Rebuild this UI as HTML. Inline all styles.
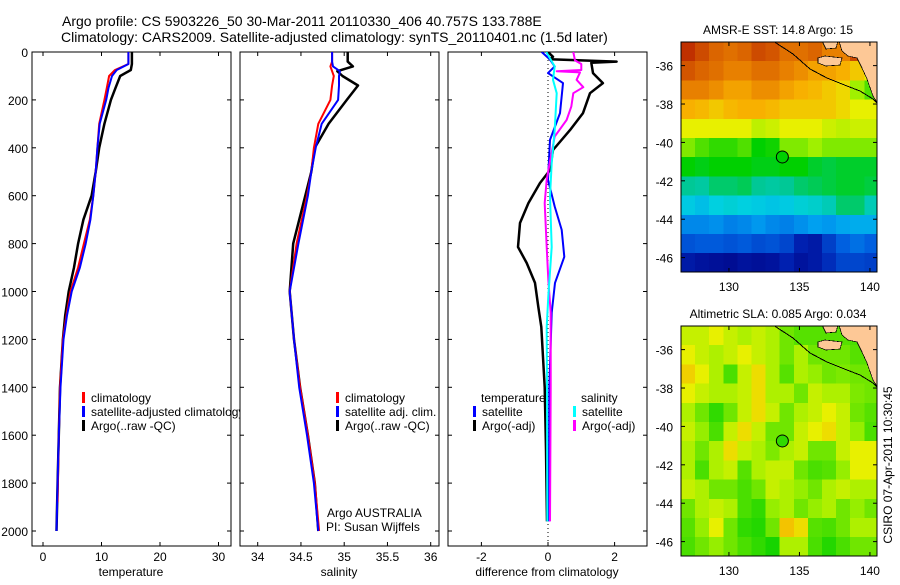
<!DOCTYPE html>
<html><head><meta charset="utf-8"><style>
body{margin:0;background:#fff;}
svg text{font-family:"Liberation Sans",sans-serif;fill:#000;}
</style></head><body>
<svg id="fig" width="900" height="580" viewBox="0 0 900 580" xmlns="http://www.w3.org/2000/svg">
<text x="62" y="26" font-size="14">Argo profile: CS 5903226_50 30-Mar-2011 20110330_406 40.757S 133.788E</text>
<text x="61" y="42" font-size="14">Climatology: CARS2009. Satellite-adjusted climatology: synTS_20110401.nc (1.5d later)</text>
<defs>
<clipPath id="c1"><rect x="32" y="52" width="199" height="494"/></clipPath>
<clipPath id="c1t"><rect x="32" y="52" width="208" height="494"/></clipPath>
<clipPath id="c2"><rect x="240" y="52" width="199" height="494"/></clipPath>
<clipPath id="c3"><rect x="448" y="52" width="199" height="494"/></clipPath>
<clipPath id="m1"><rect x="681" y="42" width="196" height="230"/></clipPath>
<clipPath id="m2"><rect x="681" y="326" width="196" height="230"/></clipPath>
</defs>
<g id="layer"></g>
</svg>
<script>
// ---- profile data ----
const depthT = [0,50,75,100,150,200,300,400,500,600,700,800,900,1000,1100,1200,1400,1600,1800,2000];
const argoT  = [15.2,15.2,15.0,13.2,12.4,11.6,10.5,9.6,9.0,8.3,6.9,6.0,5.3,4.4,3.8,3.4,2.9,2.7,2.5,2.3];
const satT   = [14.6,14.6,12.6,11.8,11.2,10.8,9.7,9.3,9.0,8.6,8.1,7.3,6.3,4.9,4.1,3.5,3.0,2.7,2.5,2.3];
const climDepthT = [0,50,75,100,150,200,300,400,500,600,700,800,900,1000,1100,1200,1400,1600,1880];
const climT  = [14.6,14.6,12.3,11.3,10.9,10.5,9.6,9.3,9.0,8.6,8.0,7.0,6.0,4.7,4.0,3.4,2.9,2.7,2.5];

const depthS = [0,40,60,80,100,140,200,300,400,500,600,800,1000,1200,1400,1600,1800,2000];
const argoS  = [35.04,35.04,35.10,34.92,34.98,35.16,35.03,34.82,34.66,34.62,34.55,34.41,34.37,34.42,34.49,34.58,34.66,34.70];
const satS   = [34.86,34.86,34.87,34.95,34.94,34.94,34.93,34.74,34.67,34.62,34.58,34.47,34.37,34.42,34.48,34.57,34.65,34.70];
const climS  = [34.86,34.86,34.84,34.86,34.88,34.86,34.84,34.70,34.65,34.62,34.57,34.45,34.37,34.42,34.49,34.58,34.66,34.71];

const argoTdDepth = [0,20,30,40,45,88,130,172,255,326,409,493,547,631,714,814,881,964,1064,1148,1400,1660,1960];
const argoTd = [0,0.15,0.05,2.06,1.3,1.35,1.65,1.26,1.05,0.66,0.15,0.06,-0.24,-0.59,-0.84,-0.9,-0.64,-0.39,-0.29,-0.2,-0.1,-0.06,-0.03];
const satTdDepth = [0,30,60,88,130,255,367,533,645,743,855,964,1089,1400,1960];
const satTd = [-0.19,0.05,0.2,0,0.45,0.36,0.06,0,0.2,0.41,0.49,0.21,0.11,0.04,0.02];
const satSdDepth = [0,60,116,172,326,464,603,814,1020,1148,1400,1960];
const satSd = [-0.05,0.2,0.15,0.26,0.2,0.11,0.06,0.11,0.01,-0.04,-0.03,-0.02];
const argoSdDepth = [0,35,50,75,80,85,116,147,172,228,284,353,464,533,631,814,950,1089,1400,1960];
const argoSd = [0.76,0.81,1.0,1.0,0.26,0.96,0.86,1.06,0.76,0.7,0.56,0.2,0.05,-0.04,-0.1,-0.04,0.01,0.08,0.08,0.06];

const depthTicks = [0,200,400,600,800,1000,1200,1400,1600,1800,2000];
const tempTicks = [0,10,20,30];
const salTicks = [34,34.5,35,35.5,36];
const salTickLabels = ["34","34.5","35","35.5","36"];
const diffTicks = [-2,0,2];
const lonTicks = [130,135,140];
const latTicks = [-36,-38,-40,-42,-44,-46];

// ---- map data (1x1 degree cells, rows from north, lon 126.6..140.6) ----
const sstGrid = [
[19.5,19,18.5,18.3,18.5,19,18.8,18.3,18.3,18.5,18,18,19,18.5],
[18.8,18.5,18.3,18,18,18.3,18.3,18,17.8,17.5,17.5,17.3,17,16.5],
[18,18,17.8,17.5,17.5,17.8,17.8,17.5,17.3,17.2,17,16.8,16,15.5],
[17.3,17.2,17,17.2,17.3,17.3,17.2,17,17,17,17,16.8,16.5,16.5],
[16.5,16.5,16.5,16.5,16.5,16.2,16.3,16.5,16.5,16.5,16.3,16.2,16.3,16.3],
[15.8,15.5,15.3,15.3,15.5,15.0,15.1,15.8,15.8,16,15.8,15.8,15.8,15.8],
[15,14.9,15,15,15,14.9,14.9,15,15,14.8,14.7,14.8,14.8,14.8],
[14.3,14.2,14.5,14.5,14.6,14.3,14.2,14.3,14.5,14.6,14.7,14.8,14.8,14.7],
[13.5,13.3,13.6,13.7,13.6,13.5,13.4,13.5,13.7,13.8,14.0,14.5,14.5,14],
[12.5,12.5,12.6,12.4,12.5,12.7,12.5,12.4,12.6,12.8,12.7,12.9,13,13],
[11.8,11.9,11.9,11.8,11.9,11.7,11.8,11.6,11,10.8,11.5,12,12.2,12],
[10.8,10.6,10.5,10.4,10.6,10.5,10.6,11,10.6,10.8,11.2,11.6,11.6,11.5]];
const slaGrid = [
[0.12,0.12,0.15,0.12,0.1,0.12,0.1,0.05,0.03,0.03,0.03,0.03,0.02,0.02],
[0.15,0.12,0.1,0.12,0.15,0.12,0.1,0.05,0.1,0.05,0.05,0.05,0.03,0.03],
[0.2,0.15,0.1,0.02,0.12,0.18,0.1,0.03,0.1,0.08,0.05,0.06,0.05,0.05],
[0.15,0.12,0.1,0.1,0.12,0.18,0.1,0.1,0.05,0.12,0.1,0.1,0.06,0.05],
[0.1,0.05,0.0,0.05,0.12,0.18,0.12,0.05,0.1,0.12,0.15,0.12,0.05,0.03],
[0.12,0.08,0.02,0.12,0.18,0.12,0.05,0.05,0.12,0.15,0.18,0.12,0.08,0.02],
[0.1,0.05,0.1,0.18,0.12,0.1,0.06,0.1,0.12,0.05,0.05,0.12,0.15,0.15],
[0.1,0.02,0.1,0.12,0.03,0.1,0.12,0.12,0.05,0.02,0.03,0.08,0.15,0.15],
[0.12,0.1,0.05,0.05,0.02,0.05,0.12,0.1,0.08,0.05,0.1,0.12,0.1,0.1],
[0.05,0.1,0.12,0.1,0.02,0.0,0.08,0.1,0.05,0.08,0.1,0.05,0.08,0.05],
[0.03,0.08,0.15,0.05,0.0,-0.01,0.05,0.22,0.18,0.03,0.02,0.05,0.1,0.1],
[0.02,0.05,0.08,0.05,0.02,0.0,-0.02,0.1,0.1,0.02,-0.01,0.02,0.05,0.05]];
const argoLon = 133.788, argoLat = -40.757;

const NS="http://www.w3.org/2000/svg";
const L=document.getElementById('layer');
function mk(tag,attrs,parent){const e=document.createElementNS(NS,tag);for(const k in attrs)e.setAttribute(k,attrs[k]);(parent||L).appendChild(e);return e;}

// axis functions
const yD = d => 52 + d*0.2395;
const xT = t => 43 + t*5.85;
const xS = s => 257.7 + (s-34)*86.5;
const xDf = v => 548 + v*33.3;

function panel(x0,name,xs,ticks,labels,lab){
  const b=mk('rect',{x:x0,y:52,width:199,height:494,fill:'#fff',stroke:'#000','stroke-width':1});
  
  
  depthTicks.forEach(d=>{
    mk('line',{x1:x0,x2:x0+4,y1:yD(d),y2:yD(d),stroke:'#000'});
    mk('line',{x1:x0+199,x2:x0+195,y1:yD(d),y2:yD(d),stroke:'#000'});
  });
  ticks.forEach((t,i)=>{
    const x=xs(t);
    mk('line',{x1:x,x2:x,y1:52,y2:56,stroke:'#000'});
    mk('line',{x1:x,x2:x,y1:546,y2:542,stroke:'#000'});
    const tx=mk('text',{x:x,y:561,'font-size':12,'text-anchor':'middle'});tx.textContent=labels[i];
    
    
  });
  const xl=mk('text',{x:x0+99,y:576,'font-size':12,'text-anchor':'middle'});xl.textContent=lab;
  
  
}
panel(32,'temperature',xT,tempTicks,tempTicks.map(String),'temperature');
panel(240,'salinity',xS,salTicks,salTickLabels,'salinity');
panel(448,'difference',xDf,diffTicks,diffTicks.map(String),'difference from climatology');
depthTicks.forEach(d=>{
  const t=mk('text',{x:28,y:yD(d)+5,'font-size':12,'text-anchor':'end'});t.textContent=d;
  
  
});

function line(depths,vals,xs,col,clip,name,w){
  const pts=depths.map((d,i)=>xs(vals[i]).toFixed(1)+','+yD(d).toFixed(1)).join(' ');
  const p=mk('polyline',{points:pts,fill:'none',stroke:col,'stroke-width':w||2,'clip-path':'url(#'+clip+')','stroke-linejoin':'round'});
  
  
}
line(depthT,argoT,xT,'#000','c1','argo-temperature-line',2.5);
line(climDepthT,climT,xT,'#f00','c1','climatology-temperature-line');
line(depthT,satT,xT,'#00f','c1','satellite-temperature-line');
line(depthS,argoS,xS,'#000','c2','argo-salinity-line',2.5);
line(depthS,climS,xS,'#f00','c2','climatology-salinity-line');
line(depthS,satS,xS,'#00f','c2','satellite-salinity-line');
const z=mk('line',{x1:xDf(0),x2:xDf(0),y1:52,y2:546,stroke:'#000','stroke-dasharray':'1,3'});


line(argoTdDepth,argoTd,xDf,'#000','c3','argo-temperature-diff-line',2.5);
line(satTdDepth,satTd,xDf,'#00f','c3','satellite-temperature-diff-line');
line(argoSdDepth,argoSd,xDf,'#f0f','c3','argo-salinity-diff-line');
line(satSdDepth,satSd,xDf,'#0ff','c3','satellite-salinity-diff-line');

function legend(x,y,col,txt,name,clip){
  const r=mk('rect',{x:x,y:y-10,width:3,height:11,fill:col});
  
  
  const t=mk('text',{x:x+9,y:y,'font-size':12});t.textContent=txt;
  if(clip)t.setAttribute('clip-path','url(#'+clip+')');
  
  
}
legend(82,402,'#f00','climatology','legend-climatology','c1t');
legend(82,416,'#00f','satellite-adjusted climatology','legend-satellite-adjusted','c1t');
legend(82,430,'#000','Argo(..raw -QC)','legend-argo','c1t');
legend(336,402,'#f00','climatology','legend-sal-climatology');
legend(336,416,'#00f','satellite adj. clim.','legend-sal-satellite');
legend(336,430,'#000','Argo(..raw -QC)','legend-sal-argo');
const a1=mk('text',{x:327,y:517,'font-size':12});a1.textContent='Argo AUSTRALIA';


const a2=mk('text',{x:326,y:531,'font-size':12});a2.textContent='PI: Susan Wijffels';


const lt=mk('text',{x:481,y:402,'font-size':12});lt.textContent='temperature';


const ls=mk('text',{x:581,y:402,'font-size':12});ls.textContent='salinity';


legend(473,416,'#00f','satellite','legend-diff-t-satellite');
legend(473,430,'#000','Argo(-adj)','legend-diff-t-argo');
legend(573,416,'#0ff','satellite','legend-diff-s-satellite');
legend(573,430,'#f0f','Argo(-adj)','legend-diff-s-argo');

// colormap
const cstops=[[10,[0,0,128]],[11,[0,32,176]],[12,[0,96,224]],[12.8,[0,160,240]],[13.6,[0,208,224]],[14.3,[0,200,150]],[15,[0,208,0]],[16,[160,240,0]],[16.5,[232,240,0]],[17.3,[248,176,0]],[18,[232,128,0]],[19.5,[192,48,0]],[20,[160,0,0]]];
function cmap(v){
  if(v<=cstops[0][0])return 'rgb('+cstops[0][1]+')';
  for(let i=1;i<cstops.length;i++){if(v<=cstops[i][0]){const a=cstops[i-1],b=cstops[i],f=(v-a[0])/(b[0]-a[0]);return 'rgb('+a[1].map((c,k)=>Math.round(c+(b[1][k]-c)*f)).join(',')+')';}}
  return 'rgb('+cstops[cstops.length-1][1]+')';
}
function map(top,grid,toC,name,clip,title,argoVal){
  const xL=lon=>681+(lon-126.6)*14.1;
  const yL=lat=>top+(-34.77-lat)*19.2;
  const g=mk('g',{'clip-path':'url(#'+clip+')','shape-rendering':'crispEdges'});
  
  
  grid.forEach((row,r)=>row.forEach((v,c)=>{
    const x=xL(126.6+c),y=yL(-34.77-r);
    const cell=mk('rect',{x:x.toFixed(1),y:y.toFixed(1),width:14.6,height:19.7,fill:cmap(toC(v))},g);
    
    
  }));
  const o=top-42;
  const land=mk('path',{d:`M839 ${41+o} L842 ${51+o} L848 ${56+o} L857 ${58+o} L862 ${68+o} L867 ${79+o} L873 ${96+o} L878 ${104+o} L878 ${41+o} Z M822 ${41+o} L838 ${41+o} L836 ${48+o} L826 ${49+o} Z M818 ${58+o} L825 ${56+o} L842 ${58+o} L840 ${65+o} L826 ${66+o} L818 ${63+o} Z`,fill:'#fdc896',stroke:'#000','stroke-width':0.7},g);
  
  
  const sh=mk('polyline',{points:`773,${41+o} 793,${54+o} 810,${69+o} 827,${78+o} 847,${86+o} 860,${91+o} 873,${99+o} 878,${104+o}`,fill:'none',stroke:'#000','stroke-width':1},g);
  
  
  const ci=mk('circle',{cx:xL(argoLon),cy:yL(argoLat),r:6,fill:cmap(toC(argoVal)),stroke:'#000','stroke-width':1});
  
  
  const b=mk('rect',{x:681,y:top,width:196,height:230,fill:'none',stroke:'#000'});
  
  
  lonTicks.forEach(l=>{const x=xL(l);
    mk('line',{x1:x,x2:x,y1:top,y2:top+4,stroke:'#000'});mk('line',{x1:x,x2:x,y1:top+230,y2:top+226,stroke:'#000'});
    const t=mk('text',{x:x,y:top+249,'font-size':12,'text-anchor':'middle'});t.textContent=l;
    
    });
  latTicks.forEach(l=>{const y=yL(l);
    mk('line',{x1:681,x2:685,y1:y,y2:y,stroke:'#000'});mk('line',{x1:877,x2:873,y1:y,y2:y,stroke:'#000'});
    const t=mk('text',{x:673,y:y+5,'font-size':12,'text-anchor':'end'});t.textContent=l;
    
    });
  const tt=mk('text',{x:778,y:top-8,'font-size':12,'text-anchor':'middle'});tt.textContent=title;
  
  
}
map(42,sstGrid,v=>v,'sst-map','m1','AMSR-E SST: 14.8 Argo: 15',15);
map(326,slaGrid,v=>15.3+v*8,'sla-map','m2','Altimetric SLA: 0.085 Argo: 0.034',0.0);
const cs=mk('text',{x:0,y:0,'font-size':12,'text-anchor':'middle',transform:'translate(892,465) rotate(-90)'});cs.textContent='CSIRO 07-Apr-2011 10:30:45';


</script>
</body></html>
